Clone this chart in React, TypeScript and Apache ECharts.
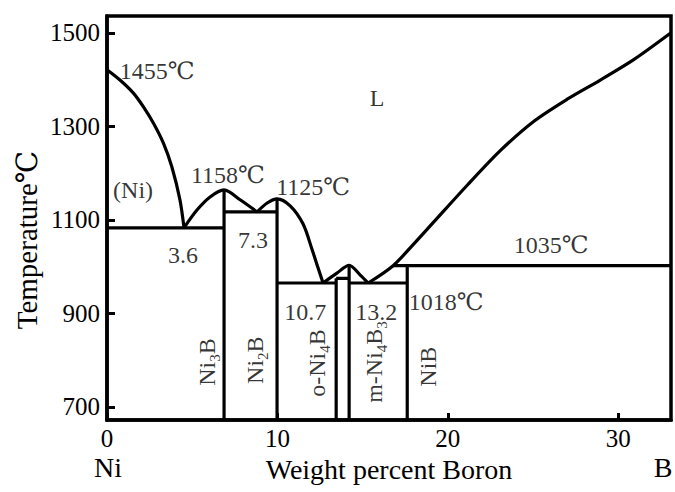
import React, { useEffect, useRef } from 'react';
import * as echarts from 'echarts';

// ---- axis ticks ----
const xTicks = [0, 10, 20, 30];
const yTicks = [700, 900, 1100, 1300, 1500];

// ---- liquidus curves (wt% B, °C) ----
const liquidusNi = [[0, 1421], [0.76, 1399], [1.55, 1371], [2.13, 1342], [2.72, 1307], [3.31, 1264], [3.8, 1214], [4.28, 1143], [4.52, 1083]];
const domeNi3B = [[4.52, 1083], [5.28, 1121], [6.05, 1149], [6.87, 1164], [7.81, 1143], [8.81, 1117]];
const domeNi2B = [[8.81, 1117], [9.4, 1136], [9.98, 1145], [10.75, 1130], [11.51, 1091], [12.04, 1036], [12.39, 997], [12.68, 965]];
const domeNi4B3 = [[12.68, 965], [13.49, 986], [14.21, 1003], [14.86, 982], [15.33, 965]];
const liquidusB = [[15.33, 965], [16.79, 1002], [18.09, 1052], [19.14, 1094], [21.14, 1174], [23.08, 1248], [25.02, 1310], [27.01, 1358], [28.95, 1399], [30.89, 1442], [33.1, 1500]];

// ---- phase boundaries ----
const eutecticNi3B = [[0, 1083], [6.87, 1083]];
const lineNi3B = [[6.87, 1164], [6.87, 672]];
const eutecticNi2B = [[6.87, 1117], [9.98, 1117]];
const lineNi2B = [[9.98, 1145], [9.98, 672]];
const eutecticONi4B3 = [[9.98, 965], [13.45, 965]];
const lineONi4B3 = [[13.45, 975], [13.45, 672]];
const topColumn = [[13.45, 975], [14.21, 975]];
const lineMNi4B3 = [[14.21, 1003], [14.21, 672]];
const eutecticMNi4B3 = [[14.21, 965], [17.62, 965]];
const lineNiB = [[17.62, 1002], [17.62, 672]];
const peritecticNiB = [[16.79, 1002], [33.1, 1002]];

// ---- annotations: [x, T, text, rotation] ----
const annotations: [number, number, string, number][] = [
  [2.95, 1419, '1455℃', 0],
  [15.85, 1361, 'L', 0],
  [1.53, 1164, '(Ni)', 0],
  [7.1, 1196, '1158℃', 0],
  [12.1, 1171, '1125℃', 0],
  [4.46, 1025, '3.6', 0],
  [8.57, 1057, '7.3', 0],
  [11.63, 903, '10.7', 0],
  [15.8, 903, '13.2', 0],
  [19.9, 925, '1018℃', 0],
  [26.07, 1047, '1035℃', 0],
  [5.87, 796, '{n|Ni}{s|3}{n|B}', 90],
  [8.69, 800, '{n|Ni}{s|2}{n|B}', 90],
  [12.33, 794, '{n|o-Ni}{s|4}{n|B}', 90],
  [15.68, 796, '{n|m-Ni}{s|4}{n|B}{s|3}', 90],
  [18.85, 786, '{n|NiB}', 90],
];

const FONT = 'Liberation Serif, DejaVu Serif, serif';

export default function App() {
  const ref = useRef<HTMLDivElement>(null);
  useEffect(() => {
    if (!ref.current) return;
    const chart = echarts.init(ref.current, null, { renderer: 'svg' });
    const line = (data: number[][], smooth: number | boolean) => ({
      type: 'line',
      data,
      smooth,
      symbol: 'none',
      silent: true,
      z: 3,
      lineStyle: { color: '#000', width: 3.2 },
    });
    const curves = [liquidusNi, domeNi3B, domeNi2B, domeNi4B3, liquidusB].map((d) => line(d, 0.3));
    const bounds = [
      eutecticNi3B, lineNi3B, eutecticNi2B, lineNi2B, eutecticONi4B3, lineONi4B3,
      topColumn, lineMNi4B3, eutecticMNi4B3, lineNiB, peritecticNiB,
    ].map((d) => line(d, false));

    chart.setOption({
      animation: false,
      backgroundColor: '#fff',
      grid: { left: 107, right: 4, top: 16, bottom: 72, show: true, borderColor: '#000', borderWidth: 3.5 },
      xAxis: {
        type: 'value',
        min: 0,
        max: 33.1,
        axisLine: { show: true, onZero: false, lineStyle: { color: '#000', width: 3.5 } },
        axisTick: { show: true, inside: true, length: 7, lineStyle: { color: '#000', width: 3 }, customValues: xTicks },
        axisLabel: { customValues: xTicks, color: '#000', fontSize: 25, fontFamily: FONT, margin: 6, formatter: (v: number) => String(v) },
        splitLine: { show: false },
        name: 'Weight percent Boron',
        nameLocation: 'middle',
        nameGap: 33,
        nameTextStyle: { color: '#000', fontSize: 28, fontFamily: FONT },
      },
      yAxis: {
        type: 'value',
        min: 672,
        max: 1536,
        axisLine: { show: true, lineStyle: { color: '#000', width: 3.5 } },
        axisTick: { show: true, inside: true, length: 8, lineStyle: { color: '#000', width: 3 }, customValues: yTicks },
        axisLabel: { customValues: yTicks, color: '#000', fontSize: 25, fontFamily: FONT, margin: 7, formatter: (v: number) => String(v) },
        splitLine: { show: false },
      },
      graphic: [
        { type: 'text', x: 108, y: 467, style: { text: 'Ni', fontSize: 28, fontFamily: FONT, fill: '#000', align: 'center', verticalAlign: 'middle' } },
        { type: 'text', x: 663, y: 467, style: { text: 'B', fontSize: 28, fontFamily: FONT, fill: '#000', align: 'center', verticalAlign: 'middle' } },
        { type: 'text', x: 27, y: 240, rotation: Math.PI / 2, style: { text: 'Temperature℃', fontSize: 29, fontFamily: FONT, fill: '#000', align: 'center', verticalAlign: 'middle' } },
      ],
      series: [
        ...curves,
        ...bounds,
        {
          type: 'scatter',
          symbolSize: 1,
          silent: true,
          z: 5,
          itemStyle: { color: 'rgba(0,0,0,0)' },
          data: annotations.map(([x, y, t, r]) => ({ value: [x, y], name: t, label: { rotate: r } })),
          label: {
            show: true,
            formatter: '{b}',
            position: 'inside',
            align: 'center',
            verticalAlign: 'middle',
            color: '#000',
            fontSize: 24,
            fontFamily: FONT,
            rich: {
              n: { fontSize: 24, fontFamily: FONT, color: '#000', lineHeight: 30, verticalAlign: 'middle' },
              s: { fontSize: 15, fontFamily: FONT, color: '#000', lineHeight: 15, verticalAlign: 'bottom' },
            },
          },
        },
      ],
    });
    return () => chart.dispose();
  }, []);
  return <div ref={ref} style={{ position: 'absolute', left: 0, top: 0, width: 675, height: 492 }} />;
}
